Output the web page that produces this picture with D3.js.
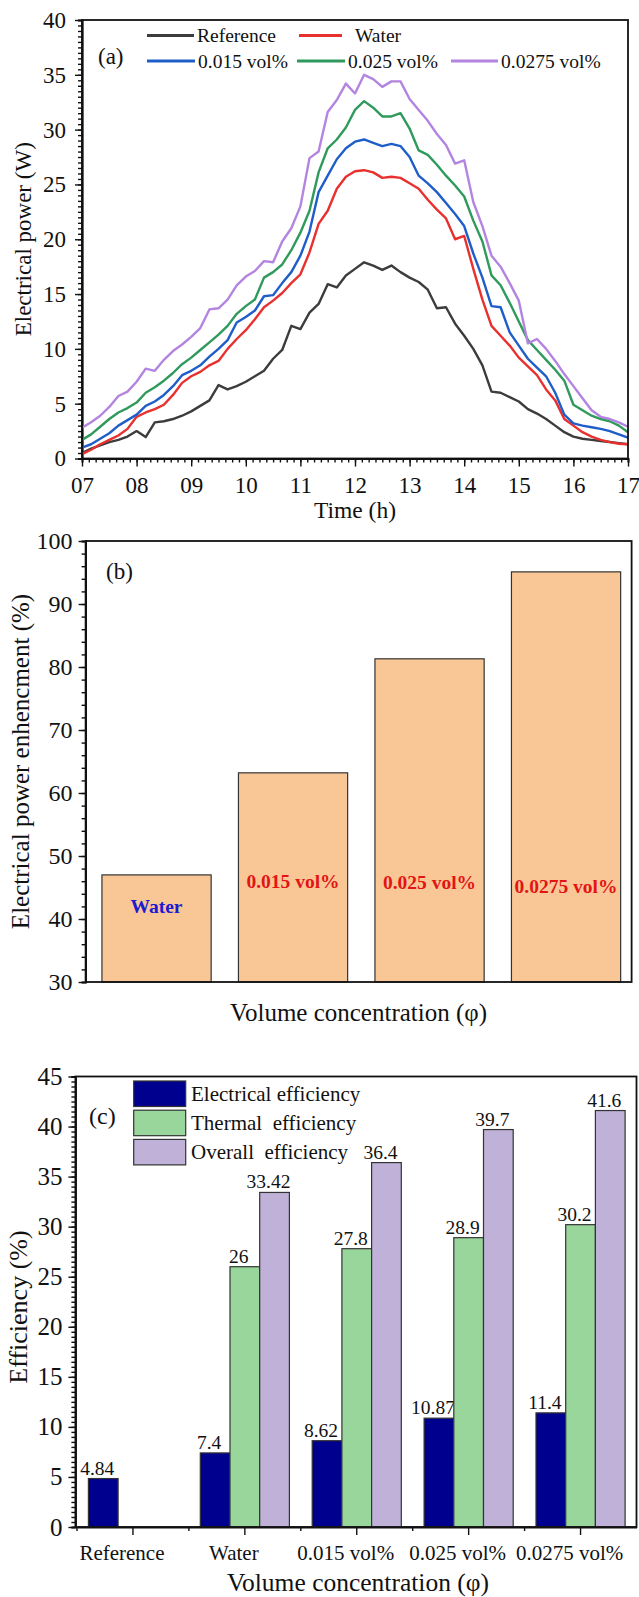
<!DOCTYPE html>
<html>
<head>
<meta charset="utf-8">
<script src="https://cdn.jsdelivr.net/npm/d3@7"></script>
<style>
  html, body { margin: 0; padding: 0; background: #fff; }
  svg { display: block; }
</style>
</head>
<body>
<svg id="chart" width="639" height="1597"></svg>
<script>
// ---------- (a) electrical power over the day ----------
const times = [
  '07:00','07:10','07:20','07:30','07:40','07:50',
  '08:00','08:10','08:20','08:30','08:40','08:50',
  '09:00','09:10','09:20','09:30','09:40','09:50',
  '10:00','10:10','10:20','10:30','10:40','10:50',
  '11:00','11:10','11:20','11:30','11:40','11:50',
  '12:00','12:10','12:20','12:30','12:40','12:50',
  '13:00','13:10','13:20','13:30','13:40','13:50',
  '14:00','14:10','14:20','14:30','14:40','14:50',
  '15:00','15:10','15:20','15:30','15:40','15:50',
  '16:00','16:10','16:20','16:30','16:40','16:50',
  '17:00'
];
const reference = [
  0.5, 0.9, 1.2, 1.5, 1.7, 2.0,
  2.5, 1.95, 3.3, 3.4, 3.6, 3.9,
  4.3, 4.8, 5.3, 6.7, 6.3, 6.6,
  7.0, 7.5, 8.0, 9.1, 9.9, 12.1,
  11.8, 13.3, 14.1, 15.9, 15.6, 16.7,
  17.3, 17.9, 17.6, 17.2, 17.6, 17.0,
  16.5, 16.1, 15.4, 13.7, 13.8, 12.3,
  11.2, 10.0, 8.5, 6.1, 6.0, 5.6,
  5.2, 4.5, 4.1, 3.6, 3.0, 2.4,
  2.0, 1.8, 1.7, 1.6, 1.5, 1.4,
  1.3
];
const water = [
  0.4, 0.8, 1.3, 1.7, 2.1, 2.7,
  3.8, 4.2, 4.5, 4.9, 5.8, 6.9,
  7.5, 7.9, 8.5, 8.9, 10.0, 10.9,
  11.7, 12.7, 13.8, 14.4, 15.1, 16.0,
  16.8, 18.8, 21.4, 22.6, 24.6, 25.7,
  26.2, 26.3, 26.1, 25.6, 25.7, 25.6,
  25.1, 24.6, 23.6, 22.7, 21.9, 20.0,
  20.3, 17.3, 14.5, 12.1, 11.2, 10.3,
  9.2, 8.4, 7.6, 6.3, 5.3, 3.6,
  3.0, 2.4, 2.0, 1.7, 1.5, 1.35,
  1.3
];
const vol015 = [
  1.0, 1.3, 1.8, 2.3, 3.0, 3.5,
  4.0, 4.8, 5.2, 5.8, 6.6, 7.6,
  8.0, 8.5, 9.3, 10.0, 10.8, 12.4,
  12.9, 13.5, 14.8, 14.9, 16.0, 17.0,
  18.5, 20.7, 24.3, 25.8, 27.3, 28.3,
  28.9, 29.1, 28.8, 28.5, 28.7, 28.5,
  27.5, 25.8, 25.1, 24.3, 23.3, 22.3,
  21.2, 18.7, 16.5, 13.9, 13.8, 11.5,
  10.3, 9.1, 8.3, 7.5, 6.0, 4.0,
  3.2, 3.0, 2.85, 2.7, 2.5, 2.2,
  1.9
];
const vol025 = [
  1.7, 2.2, 2.9, 3.6, 4.2, 4.6,
  5.1, 6.0, 6.5, 7.1, 7.8, 8.6,
  9.2, 9.9, 10.6, 11.3, 12.1, 13.2,
  13.9, 14.5, 16.5, 17.0, 17.7, 19.0,
  20.6, 22.6, 26.1, 28.3, 29.1, 30.2,
  31.8, 32.6, 32.0, 31.2, 31.2, 31.5,
  30.1, 28.1, 27.7, 26.8, 25.8, 24.9,
  23.9, 21.7, 19.8, 16.7, 15.8, 14.2,
  12.5, 10.8, 9.9, 9.0, 8.1, 7.1,
  4.9, 4.4, 3.9, 3.6, 3.4, 3.0,
  2.4
];
const vol0275 = [
  2.8, 3.3, 3.9, 4.7, 5.7, 6.1,
  7.0, 8.2, 8.0, 9.0, 9.8, 10.4,
  11.1, 11.9, 13.6, 13.7, 14.5, 15.8,
  16.6, 17.1, 18.0, 17.9, 19.8, 21.0,
  23.0, 27.4, 28.0, 31.6, 32.7, 34.2,
  33.3, 35.0, 34.6, 33.9, 34.4, 34.4,
  32.8, 31.8, 30.8, 29.6, 28.6, 26.9,
  27.2, 23.4, 21.2, 18.5, 17.5, 16.0,
  14.4, 10.5, 10.9, 10.0, 8.9, 7.7,
  6.6, 5.5, 4.4, 3.8, 3.6, 3.3,
  2.9
];
const seriesNames = ['Reference', 'Water', '0.015 vol%', '0.025 vol%', '0.0275 vol%'];
const hourTicks = [7, 8, 9, 10, 11, 12, 13, 14, 15, 16, 17];
const hourTickLabels = ['07', '08', '09', '10', '11', '12', '13', '14', '15', '16', '17'];
const powerTicks = [0, 5, 10, 15, 20, 25, 30, 35, 40];

// ---------- (b) power enhancement ----------
const enhCategories = ['Water', '0.015 vol%', '0.025 vol%', '0.0275 vol%'];
const enhValues = [47.0, 63.2, 81.3, 95.1];
const enhTicks = [30, 40, 50, 60, 70, 80, 90, 100];

// ---------- (c) efficiencies ----------
const effCategories = ['Reference', 'Water', '0.015 vol%', '0.025 vol%', '0.0275 vol%'];
const electricalEff = [4.84, 7.4, 8.62, 10.87, 11.4];
const thermalEff = [null, 26, 27.8, 28.9, 30.2];
const overallEff = [null, 33.42, 36.4, 39.7, 41.6];
const effTicks = [0, 5, 10, 15, 20, 25, 30, 35, 40, 45];

const FONT = '"Liberation Serif", "Times New Roman", serif';
const svg = d3.select('#chart');
svg.append('rect').attr('width', 639).attr('height', 1597).attr('fill', '#fff');

function styleAxis(g, size) {
  g.attr('font-family', FONT).attr('font-size', size);
  g.select('.domain').attr('stroke', '#111').attr('stroke-width', 1.8);
  g.selectAll('.tick line').attr('stroke', '#111').attr('stroke-width', 1.4);
  g.selectAll('.tick text').attr('fill', '#111');
}

function frame(b) {
  svg.append('rect')
    .attr('x', b.left).attr('y', b.top)
    .attr('width', b.right - b.left).attr('height', b.bottom - b.top)
    .attr('fill', 'none').attr('stroke', '#111').attr('stroke-width', 1.8);
}

function label(x, y, txt, size, opts = {}) {
  const t = svg.append('text')
    .attr('x', x).attr('y', y)
    .attr('font-family', FONT).attr('font-size', size)
    .attr('fill', opts.fill || '#111')
    .attr('text-anchor', opts.anchor || 'start')
    .style('white-space', 'pre')
    .text(txt);
  if (opts.weight) t.attr('font-weight', opts.weight);
  if (opts.rotate) t.attr('transform', `rotate(-90,${x},${y})`);
  return t;
}

// ================= Panel (a) =================
const pa = { left: 82, right: 628, top: 20, bottom: 458.5 };
const hours = times.map((t) => +t.slice(0, 2) + +t.slice(3) / 60);
const xA = d3.scaleLinear().domain([7, 17]).range([pa.left, pa.right]);
const yA = d3.scaleLinear().domain([0, 40]).range([pa.bottom, pa.top]);

// minor ticks
svg.append('g').attr('transform', `translate(0,${pa.bottom})`)
  .call(d3.axisBottom(xA).tickValues(d3.range(7, 17.001, 0.125)).tickSize(4).tickFormat(''))
  .call((g) => styleAxis(g, 10));
svg.append('g').attr('transform', `translate(${pa.left},0)`)
  .call(d3.axisLeft(yA).tickValues(d3.range(0, 40.001, 0.5)).tickSize(4).tickFormat(''))
  .call((g) => styleAxis(g, 10));

// X Axis (Time)
svg.append('g').attr('transform', `translate(0,${pa.bottom})`)
  .call(d3.axisBottom(xA).tickValues(hourTicks)
    .tickFormat((d, i) => hourTickLabels[i]).tickSize(8).tickPadding(10).tickSizeOuter(0))
  .call((g) => styleAxis(g, 23));

// Y Axis (W)
svg.append('g').attr('transform', `translate(${pa.left},0)`)
  .call(d3.axisLeft(yA).tickValues(powerTicks).tickSize(7).tickPadding(9).tickSizeOuter(0))
  .call((g) => styleAxis(g, 23));

const lineColors = ['#3c3c3c', '#e8302f', '#1f5ec8', '#2f9a5c', '#b384e0'];
const seriesA = [reference, water, vol015, vol025, vol0275];
const line = d3.line()
  .x((d, i) => xA(hours[i]))
  .y((d) => yA(d));

seriesA.forEach((s, k) => {
  svg.append('path')
    .datum(s)
    .attr('fill', 'none')
    .attr('stroke', lineColors[k])
    .attr('stroke-width', 2.4)
    .attr('stroke-linejoin', 'round')
    .attr('d', line);
});
frame(pa);

// legend
const legendA = [
  { x1: 147, x2: 194, y: 35.5 },
  { x1: 299, x2: 342, y: 35.5 },
  { x1: 147, x2: 195, y: 61 },
  { x1: 297, x2: 345, y: 61 },
  { x1: 451, x2: 498, y: 61 },
];
legendA.forEach((p, k) => {
  svg.append('line')
    .attr('x1', p.x1).attr('x2', p.x2).attr('y1', p.y).attr('y2', p.y)
    .attr('stroke', lineColors[k]).attr('stroke-width', 3);
  label(k === 1 ? p.x2 + 13 : p.x2 + 3, p.y + 6.5, seriesNames[k], 19.5);
});
label(98, 64, '(a)', 23);

label(xA(12), 518, 'Time (h)', 23.5, { anchor: 'middle' });
label(31, (pa.top + pa.bottom) / 2, 'Electrical power (W)', 23, { anchor: 'middle', rotate: true });

// ================= Panel (b) =================
const pb = { left: 85.6, right: 631.6, top: 541, bottom: 982 };
const xB = d3.scaleBand().domain(enhCategories).range([88.3, 634.3]).paddingInner(0.2).paddingOuter(0.1);
const yB = d3.scaleLinear().domain([30, 100]).range([pb.bottom, pb.top]);

svg.append('g').attr('transform', `translate(${pb.left},0)`)
  .call(d3.axisLeft(yB).tickValues(d3.range(30, 100.001, 2)).tickSize(4).tickFormat(''))
  .call((g) => styleAxis(g, 10));
svg.append('g').attr('transform', `translate(${pb.left},0)`)
  .call(d3.axisLeft(yB).tickValues(enhTicks).tickSize(7).tickPadding(6).tickSizeOuter(0))
  .call((g) => styleAxis(g, 24));

svg.append('g')
  .selectAll('rect')
  .data(enhValues)
  .join('rect')
  .attr('x', (d, i) => xB(enhCategories[i]))
  .attr('y', (d) => yB(d))
  .attr('width', xB.bandwidth())
  .attr('height', (d) => pb.bottom - yB(d))
  .attr('fill', '#f9c796')
  .attr('stroke', '#333')
  .attr('stroke-width', 1.2);

// names written inside the bars
const barLabelAt = [41.0, 44.9, 44.8, 44.2];
enhCategories.forEach((c, i) => {
  label(xB(c) + xB.bandwidth() / 2, yB(barLabelAt[i]), c, 19.5, {
    anchor: 'middle', weight: 'bold', fill: i === 0 ? '#1b1bd0' : '#e31414',
  });
});
frame(pb);
label(106, 579, '(b)', 23);
label((pb.left + pb.right) / 2, 1021, 'Volume concentration (\u03c6)', 25, { anchor: 'middle' });
label(29, (pb.top + pb.bottom) / 2, 'Electrical power enhencment (%)', 25, { anchor: 'middle', rotate: true });

// ================= Panel (c) =================
const pc = { left: 75.4, right: 636.5, top: 1076.5, bottom: 1527 };
const xC = d3.scaleBand().domain(effCategories).range([77, 636.5]);
const yC = d3.scaleLinear().domain([0, 45]).range([pc.bottom, pc.top]);
const barW = 29.7;
const effColors = ['#00008f', '#99d69c', '#bfb1d8'];
const effSeries = [electricalEff, thermalEff, overallEff];
const effNames = ['Electrical efficiency', 'Thermal  efficiency', 'Overall  efficiency'];

svg.append('g').attr('transform', `translate(${pc.left},0)`)
  .call(d3.axisLeft(yC).tickValues(d3.range(0, 45.001, 0.5)).tickSize(4).tickFormat(''))
  .call((g) => styleAxis(g, 10));
svg.append('g').attr('transform', `translate(${pc.left},0)`)
  .call(d3.axisLeft(yC).tickValues(effTicks).tickSize(7).tickPadding(6).tickSizeOuter(0))
  .call((g) => styleAxis(g, 25));

// category boundaries (minor)
svg.append('g')
  .selectAll('line')
  .data(effCategories)
  .join('line')
  .attr('x1', (d) => xC(d)).attr('x2', (d) => xC(d))
  .attr('y1', pc.bottom).attr('y2', pc.bottom + 4)
  .attr('stroke', '#111').attr('stroke-width', 1.4);

// category names sit a little left of their ticks, as in the original
svg.append('g').attr('transform', `translate(0,${pc.bottom})`)
  .call(d3.axisBottom(xC).tickSize(8).tickPadding(10).tickSizeOuter(0))
  .call((g) => styleAxis(g, 21))
  .call((g) => g.selectAll('.tick text').attr('dx', -11));

effSeries.forEach((vals, k) => {
  vals.forEach((v, i) => {
    if (v == null) return;
    const x0 = xC(effCategories[i]) + xC.bandwidth() / 2 - 1.5 * barW + k * barW;
    svg.append('rect')
      .attr('x', x0).attr('y', yC(v))
      .attr('width', barW).attr('height', pc.bottom - yC(v))
      .attr('fill', effColors[k]).attr('stroke', '#333').attr('stroke-width', 1.2);
    label(x0 + barW / 2 - 6, yC(v) - 4, String(v), 19.5, { anchor: 'middle' });
  });
});
frame(pc);

// legend
effNames.forEach((n, k) => {
  const y0 = 1081 + k * 29.2;
  svg.append('rect')
    .attr('x', 133.7).attr('y', y0).attr('width', 52).attr('height', 25.5)
    .attr('fill', effColors[k]).attr('stroke', '#333').attr('stroke-width', 1.2);
  label(191, y0 + 20, n, 21);
});
label(89, 1124, '(c)', 24);

label((pc.left + pc.right) / 2 + 2, 1591, 'Volume concentration (\u03c6)', 25.5, { anchor: 'middle' });
label(27, 1307, 'Efficiency (%)', 26, { anchor: 'middle', rotate: true });
</script>
</body>
</html>
